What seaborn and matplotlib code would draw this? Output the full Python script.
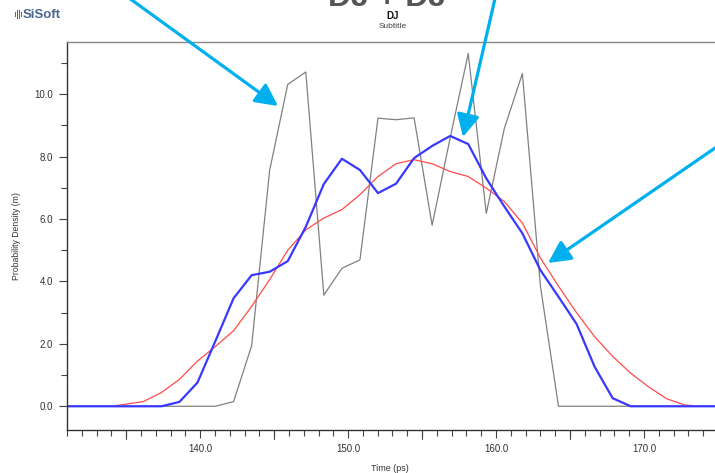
import matplotlib
matplotlib.use("Agg")
import matplotlib.pyplot as plt
import seaborn as sns
import pandas as pd
from matplotlib.ticker import MultipleLocator, FormatStrFormatter
from matplotlib.patches import Rectangle

# ---- data ----
gray_x = [131.0, 141.04, 142.26, 143.48, 144.70, 145.92, 147.14, 148.36, 149.58, 150.80,
          152.02, 153.24, 154.46, 155.68, 156.90, 158.12, 159.34, 160.56, 161.78,
          163.00, 164.22, 174.8]
gray_y = [0.0, 0.0, 0.15, 1.94, 7.57, 10.31, 10.71, 3.56, 4.42, 4.69,
          9.23, 9.18, 9.24, 5.80, 8.60, 11.30, 6.18, 8.90, 10.66,
          3.85, 0.0, 0.0]

red_x = [134.30, 136.16, 137.38, 138.60, 139.82, 141.04, 142.26, 143.48, 144.70, 145.92,
         147.14, 148.36, 149.58, 150.80, 152.02, 153.24, 154.46, 155.68, 156.90, 158.12,
         159.34, 160.56, 161.78, 163.00, 164.22, 165.44, 166.66, 167.88, 169.10, 170.32,
         171.54, 172.76, 173.30]
red_y = [0.02, 0.15, 0.44, 0.86, 1.45, 1.92, 2.42, 3.20, 4.06, 5.00,
         5.65, 6.03, 6.30, 6.78, 7.36, 7.77, 7.90, 7.77, 7.52, 7.36,
         6.99, 6.56, 5.87, 4.75, 3.85, 3.00, 2.23, 1.60, 1.06, 0.62,
         0.24, 0.04, 0.02]

blue_x = [131.0, 137.38, 138.60, 139.82, 141.04, 142.26, 143.48, 144.70, 145.92, 147.14,
          148.36, 149.58, 150.80, 152.02, 153.24, 154.46, 155.68, 156.90, 158.12, 159.34,
          160.56, 161.78, 163.00, 164.22, 165.44, 166.66, 167.88, 169.10, 174.8]
blue_y = [0.0, 0.0, 0.14, 0.76, 2.10, 3.46, 4.20, 4.31, 4.65, 5.75,
          7.12, 7.93, 7.57, 6.83, 7.13, 7.95, 8.34, 8.66, 8.40, 7.30,
          6.40, 5.54, 4.36, 3.51, 2.64, 1.27, 0.26, 0.0, 0.0]

x_ticks = [140.0, 150.0, 160.0, 170.0]
y_ticks = [0.0, 2.0, 4.0, 6.0, 8.0, 10.0]

sns.set_style("ticks")
plt.rcParams['font.family'] = ['Liberation Sans', 'DejaVu Sans']

W, H = 715, 473
fig = plt.figure(figsize=(W / 100, H / 100), dpi=100)
ax = fig.add_axes([67 / W, 1 - 430 / H, 1 - 67 / W, (430 - 42) / H])

sns.lineplot(data=pd.DataFrame({"x": gray_x, "y": gray_y}), x="x", y="y", ax=ax,
             color="#808080", lw=0.9, sort=False, estimator=None)
sns.lineplot(data=pd.DataFrame({"x": red_x, "y": red_y}), x="x", y="y", ax=ax,
             color="#ff4a4a", lw=0.9, sort=False, estimator=None)
sns.lineplot(data=pd.DataFrame({"x": blue_x, "y": blue_y}), x="x", y="y", ax=ax,
             color="#3838ff", lw=1.6, sort=False, estimator=None)

ax.set_xlim(131.0, 174.8)
ax.set_ylim(-0.76, 11.67)
ax.set_xticks(x_ticks)
ax.set_yticks(y_ticks)
ax.xaxis.set_minor_locator(MultipleLocator(1))
ax.yaxis.set_minor_locator(MultipleLocator(1))
ax.xaxis.set_major_formatter(FormatStrFormatter("%.1f"))
ax.yaxis.set_major_formatter(FormatStrFormatter("%.1f"))
ax.tick_params(axis="both", which="major", labelsize=7, labelcolor="#333333",
               color="#444444", length=6, width=0.8, direction="out", pad=4)
ax.tick_params(axis="both", which="minor", color="#444444", length=4, width=0.8,
               direction="out")
# medium ticks at every 5 on the x axis
for xv in [135, 145, 155, 165]:
    ax.plot([xv, xv], [0, -0.022], transform=ax.get_xaxis_transform(), clip_on=False,
            color="#444444", lw=0.8)

ax.set_xlabel("Time (ps)", fontsize=6.5, color="#333333")
ax.set_ylabel("Probability Density (m)", fontsize=6.2, color="#333333")
ax.xaxis.set_label_coords((390 - 67) / (W - 67), -(464 - 430) / (430 - 42))
ax.yaxis.set_label_coords((21 - 67) / (W - 67), 0.5)

for s in ["left", "bottom"]:
    ax.spines[s].set_color("#333333")
    ax.spines[s].set_linewidth(1.0)
ax.spines["top"].set_color("#888888")
ax.spines["top"].set_linewidth(1.0)
ax.spines["right"].set_visible(False)

# titles
fig.text(387 / W, 1 - 6 / H, "DJ + DJ", ha="center", va="baseline", fontsize=23,
         fontweight="bold", color="#555555")
fig.text(393 / W, 1 - 16 / H, "DJ", ha="center", va="center", fontsize=7,
         fontweight="bold", color="#111111")
fig.text(393 / W, 1 - 27 / H, "Subtitle", ha="center", va="center", fontsize=6,
         color="#444444")

# SiSoft logo
fig.text(23 / W, 1 - 15 / H, "SiSoft", ha="left", va="center", fontsize=9.5,
         fontweight="bold", color="#4a6590")
for bx, bh in [(15, 5), (17, 9), (19, 9), (21, 5)]:
    fig.add_artist(Rectangle((bx / W, 1 - (15 + bh / 2) / H), 1.3 / W, bh / H,
                             transform=fig.transFigure, color="#4a6590", lw=0))

# arrows (figure pixel coordinates, origin bottom-left)
arrow_kw = dict(arrowstyle="-|>,head_length=0.75,head_width=0.38", color="#00b0ee",
                lw=2.3, mutation_scale=18, shrinkA=0, shrinkB=0)
for (sx, sy), (tx, ty) in [((118, -10), (278, 106)),
                           ((497, -10), (463, 137)),
                           ((730, 137.7), (548, 263))]:
    ax.annotate("", xy=(tx, H - ty), xytext=(sx, H - sy), xycoords="figure pixels",
                textcoords="figure pixels", arrowprops=arrow_kw, annotation_clip=False)

fig.savefig("out.png", dpi=100)
